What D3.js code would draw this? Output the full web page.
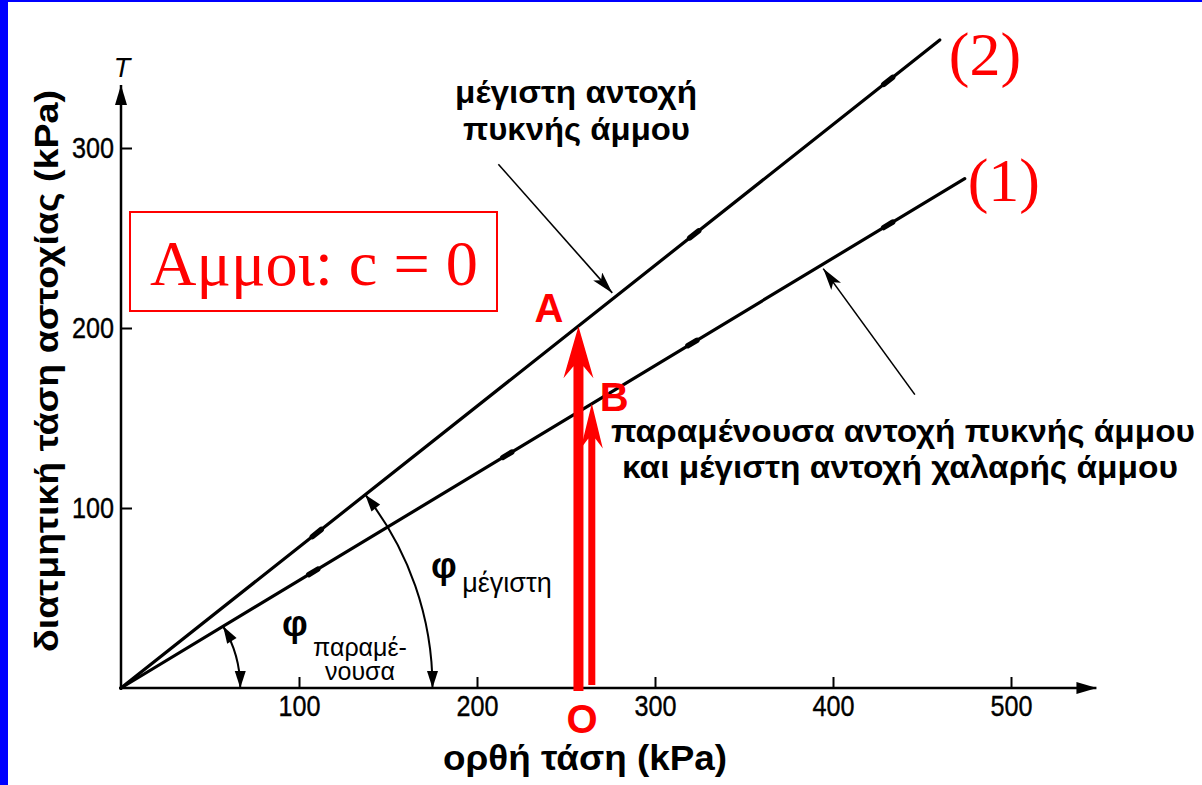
<!DOCTYPE html>
<html>
<head>
<meta charset="utf-8">
<script src="https://cdn.jsdelivr.net/npm/d3@7"></script>
<style>
  body { margin: 0; background: #fff; }
  svg { display: block; }
</style>
</head>
<body>
<svg id="chart" width="1202" height="785"></svg>
<script>
// Tick values of the two stress axes (kPa)
const xTicks = [100, 200, 300, 400, 500];
const yTicks = [100, 200, 300];

// Failure envelopes of sand (c = 0): [normal stress, shear stress] in kPa
const peakEnvelope = [[0, 0], [460, 360]];      // (2) peak strength of dense sand
const residualEnvelope = [[0, 0], [474, 283]];  // (1) residual / loose sand strength

// Normal stresses of the test points marked along each envelope
const peakPoints = [110, 322, 431];
const residualPoints = [108, 217, 321, 431];

// Points A and B reached from O at the same normal stress
const pointA = [257, 201];
const pointB = [264.5, 158];

// Angles of friction shown as arcs (radius given in kPa of normal stress)
const phiPeakRadius = 175;
const phiResidualRadius = 67;

// Leader lines of the two notes: [from, to] in kPa
const peakNoteLeader = [[212, 291], [276, 219.5]];
const residualNoteLeader = [[446, 163], [394.5, 233]];

const svg = d3.select("#chart");
const W = 1202, H = 785;

svg.append("rect").attr("width", W).attr("height", H).attr("fill", "#fff");
// blue frame edges
svg.append("rect").attr("x", 0).attr("y", 0).attr("width", 8).attr("height", H).attr("fill", "#0000ff");
svg.append("rect").attr("x", 0).attr("y", 0).attr("width", W).attr("height", 2).attr("fill", "#0000ff");

const x = d3.scaleLinear().domain([0, 500]).range([121, 1011]);
const y = d3.scaleLinear().domain([0, 300]).range([688, 148]);
const xAxisEnd = 548, yAxisEnd = 335;

const defs = svg.append("defs");
defs.append("marker").attr("id", "axisHead")
  .attr("viewBox", "0 0 20 12").attr("refX", 20).attr("refY", 6)
  .attr("markerWidth", 20).attr("markerHeight", 12).attr("markerUnits", "userSpaceOnUse")
  .attr("orient", "auto")
  .append("path").attr("d", "M0,0 L20,6 L0,12 Z").attr("fill", "#000");
defs.append("marker").attr("id", "leaderHead")
  .attr("viewBox", "0 0 22 12").attr("refX", 22).attr("refY", 6)
  .attr("markerWidth", 22).attr("markerHeight", 12).attr("markerUnits", "userSpaceOnUse")
  .attr("orient", "auto")
  .append("path").attr("d", "M0,0 L22,6 L0,12 L5,6 Z").attr("fill", "#000");

const sansFont = "'Liberation Sans', Arial, Helvetica, sans-serif";
const serifFont = "'Liberation Serif', 'Times New Roman', serif";

// Axes: ticks point inward, labels on the outside (condensed digits)
const xAxis = d3.axisBottom(x).tickValues(xTicks).tickSizeInner(-11).tickSizeOuter(0).tickPadding(6);
const yAxis = d3.axisLeft(y).tickValues(yTicks).tickSizeInner(-11).tickSizeOuter(0).tickPadding(6);

const gx = svg.append("g").attr("transform", `translate(0,${y(0)})`).call(xAxis);
const gy = svg.append("g").attr("transform", `translate(${x(0)},0)`).call(yAxis);
[gx, gy].forEach(g => {
  g.select(".domain").remove();
  g.selectAll(".tick line").attr("stroke", "#000").attr("stroke-width", 2);
  g.selectAll(".tick text").attr("fill", "#000")
    .attr("stroke", "#000").attr("stroke-width", 0.4)
    .style("font-family", sansFont).style("font-size", "30px")
    .attr("textLength", 42).attr("lengthAdjust", "spacingAndGlyphs");
});
gx.selectAll(".tick text").attr("dy", "0.74em");
gy.selectAll(".tick text").attr("dx", "-1");

svg.append("line")
  .attr("x1", x(0) - 2).attr("y1", y(0)).attr("x2", x(xAxisEnd)).attr("y2", y(0))
  .attr("stroke", "#000").attr("stroke-width", 2.5).attr("marker-end", "url(#axisHead)");
svg.append("line")
  .attr("x1", x(0)).attr("y1", y(0) + 2).attr("x2", x(0)).attr("y2", y(yAxisEnd))
  .attr("stroke", "#000").attr("stroke-width", 2.5).attr("marker-end", "url(#axisHead)");

svg.append("text").attr("x", x(0) + 1).attr("y", y(yAxisEnd) - 8)
  .attr("text-anchor", "middle").attr("font-family", sansFont)
  .attr("font-style", "italic").attr("font-size", 27).text("T");

// Axis titles
svg.append("text").attr("x", 585).attr("y", 770).attr("text-anchor", "middle")
  .attr("font-family", sansFont).attr("font-weight", "bold").attr("font-size", 35)
  .attr("textLength", 284).attr("lengthAdjust", "spacingAndGlyphs")
  .text("ορθή τάση (kPa)");
svg.append("text").attr("transform", "translate(58,371) rotate(-90)").attr("text-anchor", "middle")
  .attr("font-family", sansFont).attr("font-weight", "bold").attr("font-size", 34)
  .attr("textLength", 562).attr("lengthAdjust", "spacingAndGlyphs")
  .text("διατμητική τάση αστοχίας (kPa)");

// Envelopes
const line = d3.line().x(d => x(d[0])).y(d => y(d[1]));
[peakEnvelope, residualEnvelope].forEach(env => {
  svg.append("path").attr("d", line(env)).attr("fill", "none")
    .attr("stroke", "#000").attr("stroke-width", 3.2).attr("stroke-linecap", "round");
});

// test point marks along each envelope
function markPoints(env, xs) {
  const slope = env[1][1] / env[1][0];
  xs.forEach(v => {
    const a = [v - 2.5, (v - 2.5) * slope], b = [v + 2.5, (v + 2.5) * slope];
    svg.append("path").attr("d", line([a, b])).attr("stroke", "#000")
      .attr("stroke-width", 5.5).attr("stroke-linecap", "round");
  });
}
markPoints(peakEnvelope, peakPoints);
markPoints(residualEnvelope, residualPoints);

// Envelope numbers
svg.append("text").attr("x", x(peakEnvelope[1][0]) + 9).attr("y", y(peakEnvelope[1][1]) + 35)
  .attr("font-family", serifFont).attr("font-size", 62).attr("fill", "#ff0000").text("(2)");
svg.append("text").attr("x", x(residualEnvelope[1][0]) + 3).attr("y", y(residualEnvelope[1][1]) + 22)
  .attr("font-family", serifFont).attr("font-size", 62).attr("fill", "#ff0000").text("(1)");

// Friction angle arcs with arrowheads at both ends
function angleArc(env, r, strokeW) {
  const cx = x(0), cy = y(0);
  const rp = x(r) - x(0);
  const ang = Math.atan2(y(0) - y(env[1][1]), x(env[1][0]) - x(0));
  const p0 = [cx + rp * Math.cos(ang), cy - rp * Math.sin(ang)];
  const p1 = [cx + rp, cy];
  svg.append("path")
    .attr("d", `M${p0[0]},${p0[1]} A${rp},${rp} 0 0 1 ${p1[0]},${p1[1]}`)
    .attr("fill", "none").attr("stroke", "#000").attr("stroke-width", strokeW);
  const head = (pt, dir) => {
    const L = 17, Wd = 5.5;
    const bx = pt[0] - dir[0] * L, by = pt[1] - dir[1] * L;
    const nx = -dir[1], ny = dir[0];
    svg.append("path")
      .attr("d", `M${pt[0]},${pt[1]} L${bx + nx * Wd},${by + ny * Wd} L${bx - nx * Wd},${by - ny * Wd} Z`)
      .attr("fill", "#000");
  };
  head(p0, [-Math.sin(ang), -Math.cos(ang)]);
  head(p1, [0, 1]);
}
angleArc(peakEnvelope, phiPeakRadius, 2);
angleArc(residualEnvelope, phiResidualRadius, 2);

// Phi labels
function phiLabel(px, py, lines, subSize, subDx, subDy, gap) {
  svg.append("text").attr("x", px).attr("y", py)
    .attr("font-family", sansFont).attr("font-weight", "bold").attr("font-size", 36).text("φ");
  lines.forEach((t, i) => {
    svg.append("text").attr("x", px + subDx).attr("y", py + subDy + i * gap)
      .attr("text-anchor", "middle")
      .attr("font-family", sansFont).attr("font-size", subSize).text(t);
  });
}
phiLabel(431, 578, ["μέγιστη"], 27, 76, 14, 0);
phiLabel(282, 636, ["παραμέ-", "νουσα"], 25, 78, 20, 24);

// Notes with leader arrows
function leader(pts) {
  svg.append("line")
    .attr("x1", x(pts[0][0])).attr("y1", y(pts[0][1]))
    .attr("x2", x(pts[1][0])).attr("y2", y(pts[1][1]))
    .attr("stroke", "#000").attr("stroke-width", 1.6).attr("marker-end", "url(#leaderHead)");
}
leader(peakNoteLeader);
leader(residualNoteLeader);

function note(items, size) {
  items.forEach(it => {
    svg.append("text").attr("x", it.cx).attr("y", it.y).attr("text-anchor", "middle")
      .attr("font-family", sansFont).attr("font-weight", "bold").attr("font-size", size)
      .attr("textLength", it.w).attr("lengthAdjust", "spacingAndGlyphs").text(it.t);
  });
}
note([
  { t: "μέγιστη αντοχή", cx: 576, y: 103, w: 242 },
  { t: "πυκνής άμμου", cx: 576.5, y: 140, w: 227 }
], 31);
note([
  { t: "παραμένουσα αντοχή πυκνής άμμου", cx: 903, y: 442, w: 584 },
  { t: "και μέγιστη αντοχή χαλαρής άμμου", cx: 900, y: 478, w: 556 }
], 31);

// Boxed title
svg.append("rect").attr("x", 130).attr("y", 212).attr("width", 367).attr("height", 99)
  .attr("fill", "#fff").attr("stroke", "#ff0000").attr("stroke-width", 2);
svg.append("text").attr("x", 314).attr("y", 285).attr("text-anchor", "middle")
  .attr("font-family", serifFont).attr("font-size", 64).attr("fill", "#ff0000")
  .attr("textLength", 328).attr("lengthAdjust", "spacingAndGlyphs")
  .text("Αμμοι: c = 0");

// Red stress paths O→A and O→B
function redArrow(px, yTop, yBottom, bar, headLen, headHalf, notch) {
  const h = bar / 2;
  const d = [
    [px - h, yBottom], [px - h, yTop + headLen - notch], [px - headHalf, yTop + headLen],
    [px, yTop], [px + headHalf, yTop + headLen], [px + h, yTop + headLen - notch], [px + h, yBottom]
  ];
  svg.append("path").attr("d", "M" + d.map(p => p.join(",")).join("L") + "Z").attr("fill", "#ff0000");
}
redArrow(x(pointA[0]), y(pointA[1]), y(0) + 3, 10, 52, 15, 12);
redArrow(x(pointB[0]), y(pointB[1]), y(0) - 3, 7, 45, 11, 10);

const redLabel = (t, px, py) => svg.append("text").attr("x", px).attr("y", py)
  .attr("font-family", sansFont).attr("font-weight", "bold").attr("font-size", 40)
  .attr("fill", "#ff0000").text(t);
redLabel("A", x(pointA[0]) - 44, y(pointA[1]) - 4);
redLabel("B", x(pointB[0]) + 8, y(pointB[1]) + 7);
redLabel("O", x(pointA[0]) - 12, y(0) + 45);
</script>
</body>
</html>
